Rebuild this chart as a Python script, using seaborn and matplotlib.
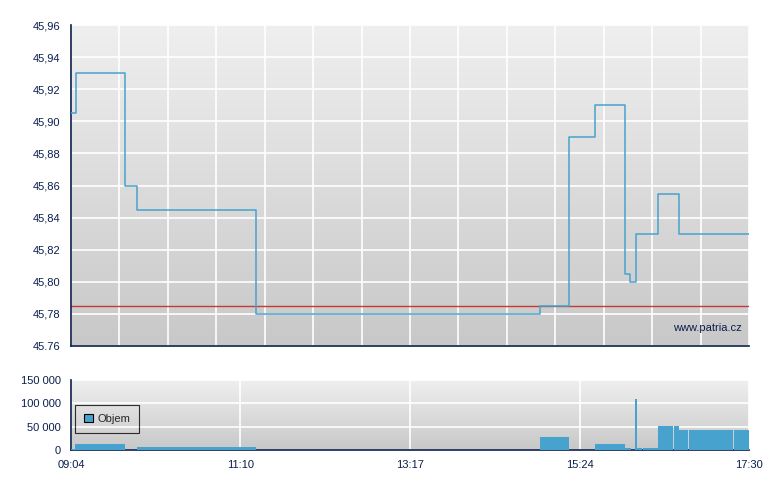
import numpy as np
import pandas as pd
import matplotlib
matplotlib.use("Agg")
import matplotlib.pyplot as plt
import seaborn as sns
from matplotlib.patches import Patch

# price trades: minutes after 09:04, price
trade_min = [0.0, 3.5, 40.1, 48.9, 137.8, 349.8, 371.3, 390.8, 413.2, 417.4, 421.9, 438.3, 454.0]
trade_price = [45.905, 45.93, 45.86, 45.845, 45.78, 45.785, 45.89, 45.91, 45.805, 45.80, 45.83, 45.855, 45.83]
prev_close = 45.785

# volume blocks: start / end minute, volume
vol_start = [0.0, 3.0, 49.3, 350.0, 391.1, 413.5, 421.0, 422.5, 426.9, 438.1, 450.0, 453.7, 461.2, 494.8]
vol_end = [3.0, 40.3, 137.8, 371.7, 413.5, 418.0, 422.5, 426.2, 438.1, 449.3, 453.7, 460.4, 494.0, 506.0]
vol_value = [1500, 13000, 6500, 28000, 13000, 4000, 109000, 4000, 4000, 52000, 52000, 43000, 43000, 43000]

session_len = 506  # 09:04 -> 17:30
price_ticks = [45.76, 45.78, 45.80, 45.82, 45.84, 45.86, 45.88, 45.90, 45.92, 45.94, 45.96]
price_labels = ["45.76", "45,78", "45,80", "45,82", "45,84", "45,86", "45,88", "45,90", "45,92", "45,94", "45,96"]
vol_ticks = [0, 50000, 100000, 150000]
vol_labels = ["0", "50 000", "100 000", "150 000"]
time_labels = ["09:04", "11:10", "13:17", "15:24", "17:30"]

navy = "#0b1f4d"
blue = "#47a3cd"

sns.set_style("white")
plt.rcParams["font.family"] = ["Liberation Sans", "DejaVu Sans"]
plt.rcParams["font.size"] = 8

fig = plt.figure(figsize=(7.8, 4.9), dpi=100)
ax = fig.add_axes([71 / 780, 1 - 346 / 490, 678 / 780, 321 / 490])
axv = fig.add_axes([71 / 780, 1 - 450 / 490, 678 / 780, 70 / 490])


def gradient(a):
    g = np.linspace(0, 1, 256).reshape(-1, 1)
    cmap = matplotlib.colors.LinearSegmentedColormap.from_list("bg", ["#efefef", "#c8c8c8"])
    a.imshow(g, aspect="auto", cmap=cmap, extent=[0, 1, 0, 1], transform=a.transAxes, zorder=-5)


def style_axes(a):
    for s in ["top", "right"]:
        a.spines[s].set_visible(False)
    for s in ["left", "bottom"]:
        a.spines[s].set_color(navy)
        a.spines[s].set_linewidth(1.2)
    a.tick_params(axis="both", direction="out", length=4, width=1.2, color=navy, labelcolor=navy, labelsize=8)
    a.set_xlim(0, session_len)
    a.set_xlabel("")
    a.set_ylabel("")


# --- price panel ---
gradient(ax)
df = pd.DataFrame({"t": trade_min + [session_len], "price": trade_price + [trade_price[-1]]})
sns.lineplot(data=df, x="t", y="price", ax=ax, drawstyle="steps-post", color=blue, lw=1.1, zorder=3)
ax.axhline(prev_close, color="#c23b35", lw=1, zorder=2)
style_axes(ax)
ax.set_ylim(price_ticks[0], price_ticks[-1])
ax.set_yticks(price_ticks)
ax.set_yticklabels(price_labels)
grid_x = np.linspace(0, session_len, 15)
ax.set_xticks(grid_x)
ax.set_xticklabels([])
ax.tick_params(axis="x", length=5)
ax.grid(True, color="white", lw=1.2, zorder=0)
ax.set_axisbelow(True)
ax.text(0.99, 0.055, "www.patria.cz", transform=ax.transAxes, ha="right", va="center", color=navy, fontsize=8)

# --- volume panel ---
gradient(axv)
widths = [e - s for s, e in zip(vol_start, vol_end)]
axv.bar(vol_start, vol_value, width=widths, align="edge", color=blue, lw=0, zorder=3)
style_axes(axv)
axv.set_ylim(0, 150000)
axv.set_yticks(vol_ticks)
axv.set_yticklabels(vol_labels)
time_pos = np.linspace(0, session_len, len(time_labels))
axv.set_xticks(time_pos)
axv.set_xticklabels(time_labels)
axv.grid(True, color="white", lw=1.2, zorder=0)
axv.set_axisbelow(True)
leg = axv.legend(handles=[Patch(facecolor=blue, edgecolor="black", lw=0.8, label="Objem")],
                 loc="upper left", bbox_to_anchor=(0.006, 0.645), borderaxespad=0,
                 frameon=True, fancybox=False,
                 fontsize=8, handlelength=0.8, handleheight=0.8, handletextpad=0.4, borderpad=0.8)
leg.get_frame().set_edgecolor("black")
leg.get_frame().set_facecolor("none")
leg.get_frame().set_linewidth(0.8)

fig.savefig("out.png", dpi=100)
